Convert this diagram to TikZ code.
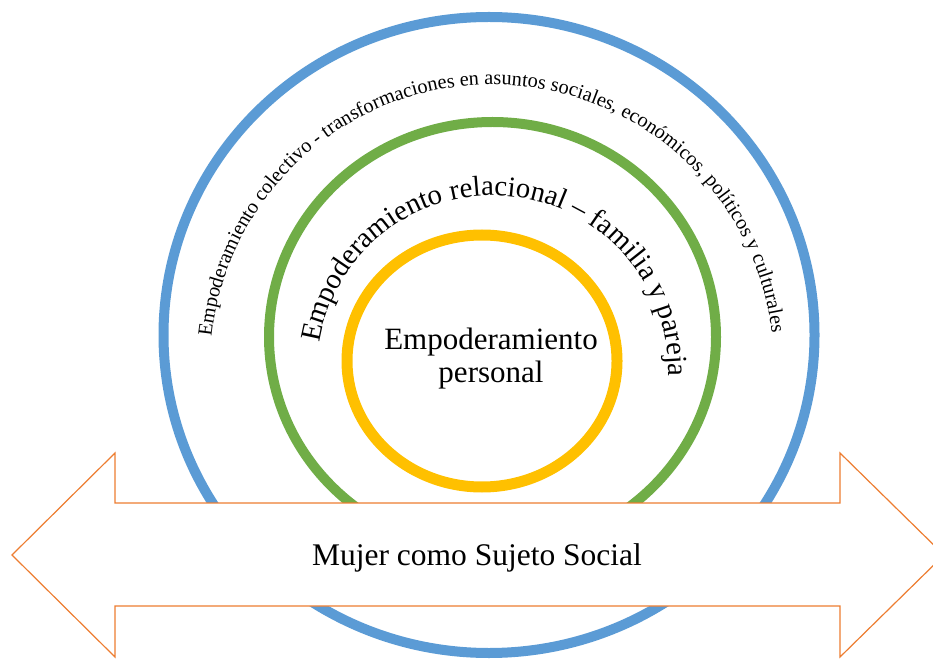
\documentclass[tikz,border=0pt]{standalone}
\usepackage{fontspec}
\setmainfont{Liberation Serif}
\usetikzlibrary{decorations.text,shapes.geometric}
\definecolor{azul}{HTML}{5B9BD5}
\definecolor{verde}{HTML}{70AD47}
\definecolor{amarillo}{HTML}{FFC000}
\definecolor{naranja}{HTML}{ED7D31}
\tikzset{
    %Define style for the rings
    anillo/.style={
           ellipse,
           line width=10pt,
           inner sep=0pt},
    % Define style for the banner arrow
    flecha/.style={
           draw=naranja,
           line width=1.2pt,
           fill=white},
    % Define standard label style
    rotulo/.style={inner sep=0pt,align=center,text=black},
    % Define style for text along an arc
    arco/.style={decorate,decoration={text along path,text align=center,text={#1}}}
}

\begin{document}
\begin{tikzpicture}[x=1pt,y=1pt]
  \useasboundingbox (0,0) rectangle (933,659);
  % rings
  \node[anillo,draw=azul,minimum width=651pt,minimum height=636pt] (colectivo) at (489,324) {};
  \node[anillo,draw=verde,minimum width=447pt,minimum height=430pt] (relacional) at (492.5,322) {};
  \node[anillo,draw=amarillo,line width=11pt,minimum width=270pt,minimum height=252pt] (personal) at (482,298) {};
  % banner
  \draw[flecha] (12,104) -- (115,206) -- (115,156) -- (840,156) -- (840,206) -- (944,104)
    -- (840,2) -- (840,53) -- (115,53) -- (115,2) -- cycle;
  \node[rotulo,font=\fontsize{31.5}{35}\selectfont,anchor=base] (sujeto) at (477,94) {Mujer como Sujeto Social};
  \node[rotulo,font=\fontsize{31}{33}\selectfont] (nucleo) at (491,300) {Empoderamiento\\personal};
  % arc labels
  \coordinate (centroG) at (492.6,288);
  \coordinate (centroB) at (492,292.4);
  \path[arco={|\fontsize{28.8}{32}\selectfont|Empoderamiento relacional – familia y pareja},shift={(centroG)}]
    (179.4:175.5pt) arc[start angle=179.4,end angle=-10.6,radius=175.5pt];
  \path[arco={|\fontsize{20.3}{24}\selectfont|Empoderamiento colectivo - transformaciones en asuntos sociales, económicos, políticos y culturales},shift={(centroB)}]
    (185.4:282pt) arc[start angle=185.4,end angle=-4.6,radius=282pt];
\end{tikzpicture}
\end{document}
